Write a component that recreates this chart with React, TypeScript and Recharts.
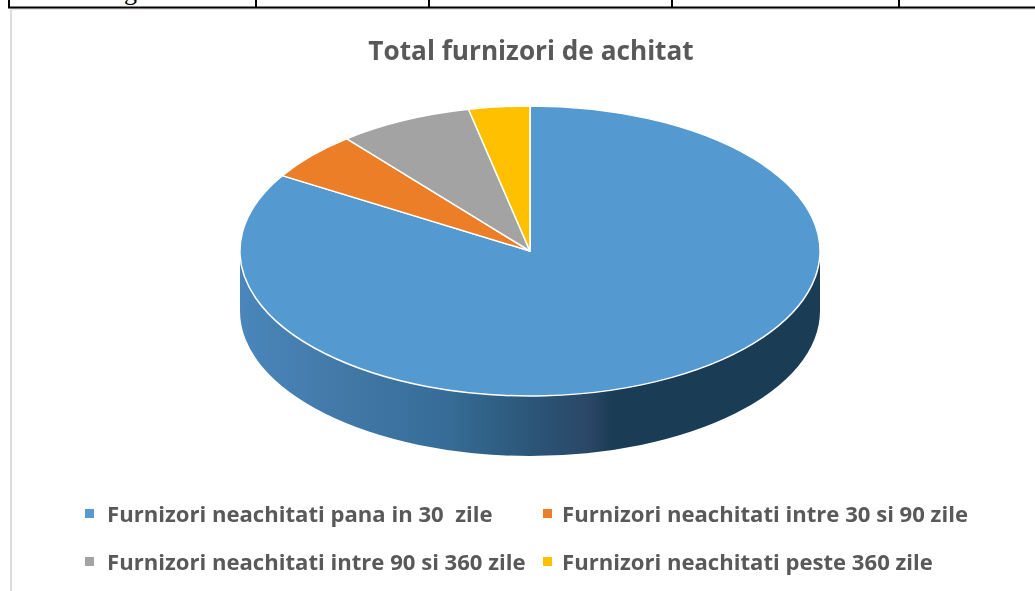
import React from "react";
import { PieChart, Pie, Cell, Legend } from "recharts";

const titleText = "Total furnizori de achitat";
const categories = [
  "Furnizori neachitati pana in 30  zile",
  "Furnizori neachitati intre 30 si 90 zile",
  "Furnizori neachitati intre 90 si 360 zile",
  "Furnizori neachitati peste 360 zile",
];
const values = [83.7, 5.4, 7.5, 3.4];
const colors = ["#5599d1", "#eb7e26", "#a3a3a3", "#ffc000"];
const rows = categories.map((name, i) => ({ name, value: values[i] }));

const tableTicks = [8, 255, 428, 671, 898];
const CX = 530;
const CY = 251;
const R = 290;
const K = 0.5;
const DEPTH = 60;
const FONT = "'Open Sans', sans-serif";
const SOFT = "blur(0.35px)";

const rad = (a: number) => (a * Math.PI) / 180;
const px = (cx: number, a: number) => cx + R * Math.cos(rad(a));
const py = (cy: number, a: number) => cy - R * K * Math.sin(rad(a));

function TopSlice(p: any) {
  const { cx, cy, startAngle: s, endAngle: e, fill } = p;
  const large = Math.abs(s - e) > 180 ? 1 : 0;
  const d = `M${cx},${cy} L${px(cx, s)},${py(cy, s)} A${R},${R * K} 0 ${large} 1 ${px(cx, e)},${py(cy, e)} Z`;
  return <path d={d} fill={fill} stroke="#ffffff" strokeWidth={1.5} strokeLinejoin="round" />;
}

function WallSlice(p: any) {
  const { cx, cy, startAngle: s, endAngle: e } = p;
  const hi = Math.min(s, 0);
  const lo = Math.max(e, -180);
  if (hi <= lo) return null;
  const large = hi - lo > 180 ? 1 : 0;
  const d =
    `M${px(cx, hi)},${py(cy, hi)} A${R},${R * K} 0 ${large} 1 ${px(cx, lo)},${py(cy, lo)} ` +
    `L${px(cx, lo)},${py(cy, lo) + DEPTH} A${R},${R * K} 0 ${large} 0 ${px(cx, hi)},${py(cy, hi) + DEPTH} Z`;
  return <path d={d} fill="url(#wallGrad)" stroke="none" />;
}

const legendPos = [
  { x: 85, y: 514, tx: 107 },
  { x: 543, y: 514, tx: 562 },
  { x: 85, y: 562, tx: 107 },
  { x: 543, y: 562, tx: 562 },
];

function LegendBox({ payload }: any) {
  const items = (payload || []).filter((it: any) => it.type !== "none" && it.color).slice(-4);
  return (
    <div style={{ position: "relative", width: 1035, height: 591 }}>
      {items.map((it: any, i: number) => {
        const pos = legendPos[i];
        return (
          <React.Fragment key={i}>
            <div style={{ position: "absolute", left: pos.x, top: pos.y - 5, width: 9, height: 9, background: it.color }} />
            <div
              style={{
                position: "absolute",
                left: pos.tx,
                top: pos.y - 17,
                lineHeight: "32px",
                height: 32,
                fontFamily: FONT,
                fontWeight: 700,
                fontSize: 22.1,
                color: "#595959",
                whiteSpace: "pre",
                filter: SOFT,
              }}
            >
              {it.value}
            </div>
          </React.Fragment>
        );
      })}
    </div>
  );
}

export default function App() {
  return (
    <div style={{ position: "absolute", left: 0, top: 0, width: 1035, height: 591, background: "#fff", overflow: "hidden" }}>
      <PieChart width={1035} height={591} margin={{ top: 0, right: 0, bottom: 0, left: 0 }}>
        <defs>
          <linearGradient id="wallGrad" gradientUnits="userSpaceOnUse" x1={CX - R} y1={0} x2={CX + R} y2={0}>
            <stop offset="0" stopColor="#4a86bb" />
            <stop offset="0.17" stopColor="#4279a8" />
            <stop offset="0.36" stopColor="#366c96" />
            <stop offset="0.5" stopColor="#2b5678" />
            <stop offset="0.6" stopColor="#2a4767" />
            <stop offset="0.64" stopColor="#1a3c55" />
            <stop offset="1" stopColor="#1a3c55" />
          </linearGradient>
        </defs>
        <rect x={10} y={8} width={2} height={583} fill="#dcdcdc" />
        <rect x={10} y={8} width={1025} height={2} fill="#e4e4e4" />
        <rect x={8} y={6.5} width={1027} height={2} fill="#000" />
        {tableTicks.map((x) => (
          <rect key={x} x={x} y={0} width={2} height={8} fill="#000" />
        ))}
        <text x={124} y={0} fontFamily="'Liberation Serif', serif" fontSize={26} fill="#000">g</text>
        <text x={531} y={60} textAnchor="middle" fontFamily={FONT} fontWeight={700} fontSize={26.2} fill="#595959" style={{ filter: SOFT }}>
          {titleText}
        </text>
        <Pie
          data={rows}
          dataKey="value"
          nameKey="name"
          cx={CX}
          cy={CY}
          outerRadius={R}
          startAngle={90}
          endAngle={-270}
          stroke="none"
          legendType="none"
          shape={WallSlice}
          isAnimationActive={false}
        />
        <Pie
          data={rows}
          dataKey="value"
          nameKey="name"
          cx={CX}
          cy={CY}
          outerRadius={R}
          startAngle={90}
          endAngle={-270}
          shape={TopSlice}
          isAnimationActive={false}
        >
          {rows.map((r, i) => (
            <Cell key={r.name} fill={colors[i]} />
          ))}
        </Pie>
        <Legend
          verticalAlign="bottom"
          itemSorter={null}
          content={<LegendBox />}
          wrapperStyle={{ position: "absolute", left: 0, top: 0, bottom: "auto", width: 1035, height: 591, pointerEvents: "none" }}
        />
      </PieChart>
    </div>
  );
}
